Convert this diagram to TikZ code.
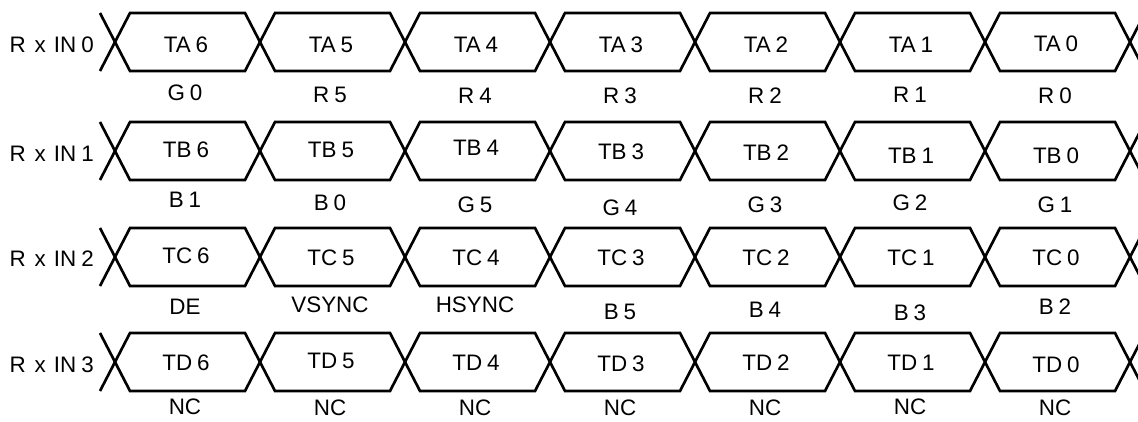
\documentclass[tikz,border=0pt]{standalone}
\usepackage{fontspec}
\setmainfont{Liberation Sans}
\usetikzlibrary{calc}
\tikzset{
    bus line/.style={line width=2pt, line join=miter},
    word label/.style={inner sep=0pt, anchor=center},
    bit label/.style={inner sep=0pt, anchor=center},
    port label/.style={inner sep=0pt, anchor=east},
}
\tikzstyle{every node}=[font=\fontsize{16.8pt}{19pt}\selectfont]
% gap before the digit, as printed
\newcommand{\dsp}{\kern0.22em}
% one bus row: seven slots between eight crossings
\newcommand{\busrow}[1]{%
    \foreach \k in {0,...,6}{
        \pgfmathsetmacro\xa{115+145*\k}
        \pgfmathsetmacro\xb{\xa+145}
        \draw[bus line] (\xa,#1) -- (\xa+15,#1-29) -- (\xb-15,#1-29) -- (\xb,#1)
            -- (\xb-15,#1+29) -- (\xa+15,#1+29) -- cycle;
    }
    \draw[bus line] (100,#1-29) -- (115,#1) -- (100,#1+29);
    \draw[bus line] (1145,#1-29) -- (1130,#1) -- (1145,#1+29);
}

\begin{document}
\begin{tikzpicture}[x=0.75pt,y=-0.75pt]
    \useasboundingbox (0,0) rectangle (1138,421);
    \clip (0,0) rectangle (1138,421);

    \busrow{42}
    \busrow{151}
    \busrow{257}
    \busrow{362}

    \node[port label] (rx0) at (94,45) {R\kern0.12em{} x\kern0.08em{} IN\dsp0};
    \node[port label] (rx1) at (94,154) {R\kern0.12em{} x\kern0.08em{} IN\dsp1};
    \node[port label] (rx2) at (94,259) {R\kern0.12em{} x\kern0.08em{} IN\dsp2};
    \node[port label] (rx3) at (94,365) {R\kern0.12em{} x\kern0.08em{} IN\dsp3};

    % row 0
    \foreach \k/\w/\dw/\b/\db in {0/TA\dsp6/3/G\dsp0/51, 1/TA\dsp5/3/R\dsp5/53,
        2/TA\dsp4/3/R\dsp4/54, 3/TA\dsp3/3/R\dsp3/54, 4/TA\dsp2/3/R\dsp2/54,
        5/TA\dsp1/3/R\dsp1/53, 6/TA\dsp0/2/R\dsp0/54}{
        \node[word label] (ta\k) at (186+145*\k,42+\dw) {\w};
        \node[bit label] (ba\k) at (185+145*\k,42+\db) {\b};
    }
    % row 1
    \foreach \k/\w/\dw/\b/\db in {0/TB\dsp6/-1/B\dsp1/49, 1/TB\dsp5/-1/B\dsp0/52,
        2/TB\dsp4/-3/G\dsp5/54, 3/TB\dsp3/1/G\dsp4/57, 4/TB\dsp2/2/G\dsp3/54,
        5/TB\dsp1/5/G\dsp2/52, 6/TB\dsp0/5/G\dsp1/54}{
        \node[word label] (tb\k) at (186+145*\k,151+\dw) {\w};
        \node[bit label] (bb\k) at (185+145*\k,151+\db) {\b};
    }
    % row 2
    \foreach \k/\w/\dw/\b/\db in {0/TC\dsp6/-1/DE/50, 1/TC\dsp5/1/VSYNC/48,
        2/TC\dsp4/1/HSYNC/48, 3/TC\dsp3/1/B\dsp5/55, 4/TC\dsp2/1/B\dsp4/53,
        5/TC\dsp1/1/B\dsp3/56, 6/TC\dsp0/1/B\dsp2/50}{
        \node[word label] (tc\k) at (186+145*\k,257+\dw) {\w};
        \node[bit label] (bc\k) at (185+145*\k,257+\db) {\b};
    }
    % row 3
    \foreach \k/\w/\dw/\db in {0/TD\dsp6/1/45, 1/TD\dsp5/-1/46, 2/TD\dsp4/1/46,
        3/TD\dsp3/2/46, 4/TD\dsp2/1/46, 5/TD\dsp1/1/45, 6/TD\dsp0/3/46}{
        \node[word label] (td\k) at (186+145*\k,362+\dw) {\w};
        \node[bit label] (bd\k) at (185+145*\k,362+\db) {NC};
    }
\end{tikzpicture}
\end{document}
